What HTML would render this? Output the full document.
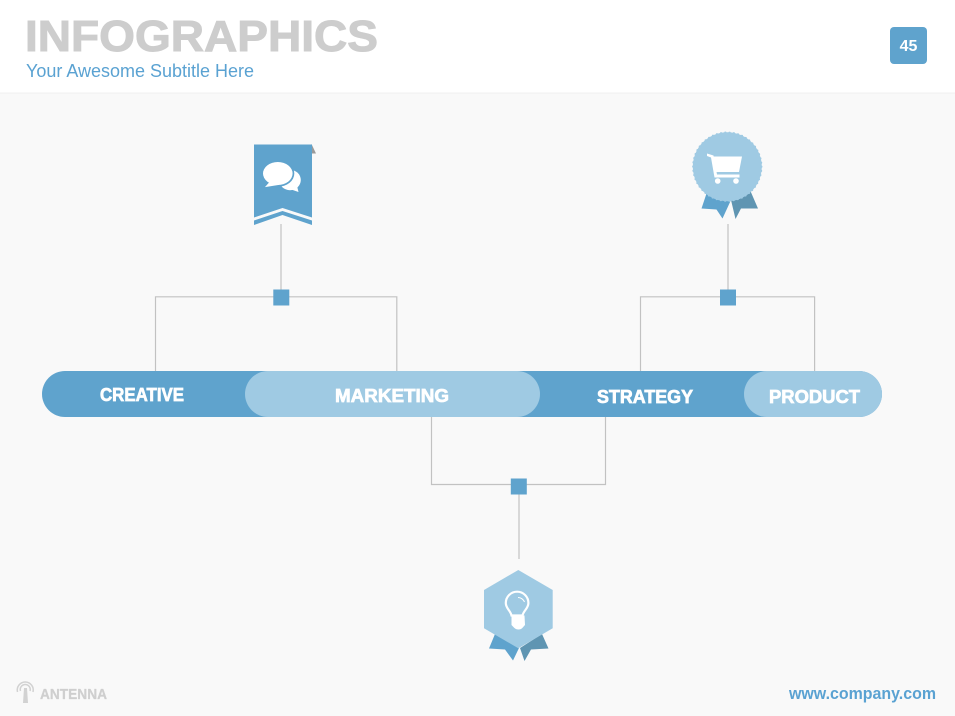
<!DOCTYPE html>
<html>
<head>
<meta charset="utf-8">
<style>
html,body{margin:0;padding:0;width:955px;height:716px;overflow:hidden;background:#f9f9f9}
svg{display:block}
text{font-family:"Liberation Sans",sans-serif}
.b{font-weight:bold;fill:#fff;font-size:18px;stroke:#fff;stroke-width:.7}
</style>
</head>
<body>
<svg width="955" height="716" viewBox="0 0 955 716" xmlns="http://www.w3.org/2000/svg">
<rect width="955" height="716" fill="#f9f9f9"/>
<rect width="955" height="92.5" fill="#fff"/>
<rect y="92.5" width="955" height="1" fill="#f0f0f0"/>

<text x="25" y="51" font-size="44" font-weight="bold" fill="#cdcdcd" stroke="#cdcdcd" stroke-width="1" textLength="353" lengthAdjust="spacingAndGlyphs">INFOGRAPHICS</text>
<text x="26" y="77" font-size="18" fill="#5aa2d2" textLength="228" lengthAdjust="spacingAndGlyphs">Your Awesome Subtitle Here</text>

<rect x="890" y="27" width="37" height="37" rx="4" fill="#5fa3cd"/>
<text x="908.5" y="51" font-size="16" font-weight="bold" fill="#fff" text-anchor="middle">45</text>

<g fill="none" stroke="#c2c2c2" stroke-width="1.2">
<path d="M281 224V297M155.500 371V296.800H396.800V371"/>
<path d="M728 224V297M640.500 371V296.800H814.600V371"/>
<path d="M431.500 417V484.500H605.500V417M519 486V559"/>
</g>
<rect x="273.300" y="289.500" width="16" height="16" fill="#5fa3cd"/>
<rect x="720" y="289.500" width="16" height="16" fill="#5fa3cd"/>
<rect x="510.800" y="478.500" width="16" height="16" fill="#5fa3cd"/>

<rect x="42" y="371" width="840" height="46" rx="23" fill="#5fa3cd"/>
<rect x="245" y="371" width="295" height="46" rx="23" fill="#9fcae3"/>
<rect x="744" y="371" width="138" height="46" rx="23" fill="#9fcae3"/>
<text class="b" x="100" y="401" textLength="84" lengthAdjust="spacingAndGlyphs">CREATIVE</text>
<text class="b" x="335" y="402" textLength="114" lengthAdjust="spacingAndGlyphs">MARKETING</text>
<text class="b" x="597" y="403" textLength="96" lengthAdjust="spacingAndGlyphs">STRATEGY</text>
<text class="b" x="769" y="403" textLength="91" lengthAdjust="spacingAndGlyphs">PRODUCT</text>

<!-- bookmark -->
<path d="M311.500 144L316 153.500H311.500Z" fill="#9a9a9a"/>
<path d="M254 144.500H312V217.500L282.500 208L254 217.500Z" fill="#5fa3cd"/>
<path d="M254 220.500L282.500 211L312 220.500V225L282.500 215L254 225Z" fill="#5fa3cd"/>
<ellipse cx="290" cy="180" rx="10.800" ry="10.200" fill="#fff"/>
<path d="M284 187L298.500 192L296 182Z" fill="#fff"/>
<ellipse cx="277.800" cy="173.500" rx="16.500" ry="13.300" fill="#5fa3cd"/>
<ellipse cx="277.800" cy="173.500" rx="14.800" ry="11.500" fill="#fff"/>
<path d="M270 182L266 186.500L279 184.500Z" fill="#fff" stroke="#fff" stroke-width=".8"/>

<!-- cart badge -->
<path d="M707 192L701.500 208.500L716.500 209.500L722.500 218.500L731 200Z" fill="#5fa3cd"/>
<path d="M731 200L735.500 219L741 208.500L758 208.500L750 190Z" fill="#5f95b2"/>
<circle cx="727.300" cy="166.700" r="34.500" fill="#9fcae3"/>
<circle cx="727.300" cy="166.700" r="34" fill="none" stroke="#9fcae3" stroke-width="2.400" stroke-linecap="round" stroke-dasharray="0 4.270"/>
<g fill="#fff">
<path d="M711.500 156.500H742L739 172H715Z"/>
<path d="M707 153.500L713.500 155.500L717 174.500H739.500V177.500H714.500L711 157.500L707 156Z"/>
<circle cx="717.700" cy="181" r="2.800"/>
<circle cx="736" cy="181" r="2.800"/>
</g>

<!-- bulb badge -->
<path d="M495 634L489 648.500L505 649.500L513 660.500L519 648Z" fill="#5fa3cd"/>
<path d="M520 648L524.500 661L531 649.500L548.500 648.500L542 634Z" fill="#5f95b2"/>
<path d="M518.300 570L552.700 590V628.300L518.300 648.300L484 628.300V590Z" fill="#9fcae3"/>
<path d="M511.500 615.500C510.500 610.500 505.800 608.500 505.800 603A11.300 11.300 0 0 1 528.400 603C528.400 608.500 523.500 610.500 522.500 615.500Z" fill="none" stroke="#fff" stroke-width="2.200"/>
<path d="M511.500 615.500H524.500L525 625C523 627 522 629.500 518.500 629.500C515 629.500 513.500 627 511.500 625Z" fill="#fff"/>
<path d="M518 597.500C521 597.500 523.500 599.500 524.500 602" fill="none" stroke="#fff" stroke-width="1"/>

<!-- logo -->
<g fill="none" stroke="#d2d2d2" stroke-width="1.500">
<path d="M17.500 692A8 8 0 1 1 33 692"/>
<path d="M20.500 691A5 5 0 1 1 30 691"/>
</g>
<path d="M24 688H27L28 703H23Z" fill="#d2d2d2"/>
<text x="40" y="699" font-size="15" font-weight="bold" fill="#cfcfcf" stroke="#cfcfcf" stroke-width=".3" textLength="67" lengthAdjust="spacingAndGlyphs">ANTENNA</text>
<text x="789" y="699" font-size="17" font-weight="bold" fill="#5aa2d2" textLength="147" lengthAdjust="spacingAndGlyphs">www.company.com</text>
</svg>
</body>
</html>
